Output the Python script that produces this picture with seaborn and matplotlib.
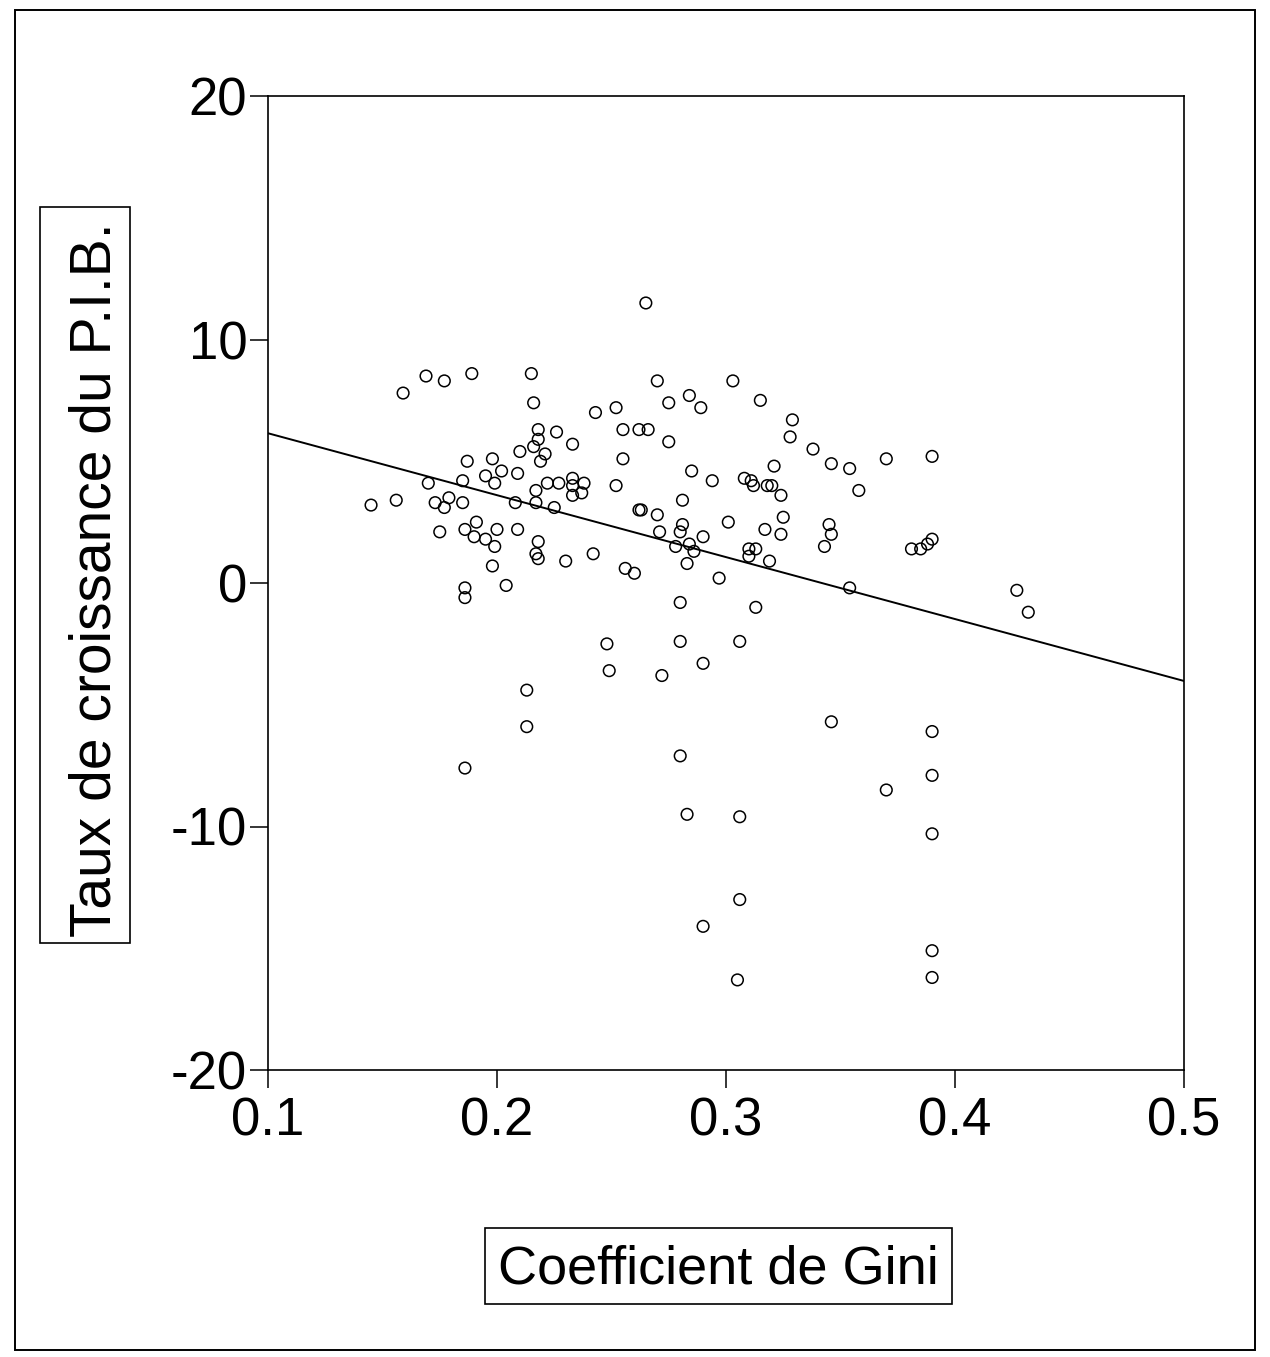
import numpy as np
import pandas as pd
import matplotlib
matplotlib.use("Agg")
import matplotlib.pyplot as plt
from matplotlib.patches import Rectangle
import seaborn as sns

# Gini coefficient vs GDP growth
gini = [
    0.159, 0.169, 0.177, 0.189, 0.215, 0.216, 0.243, 0.218, 0.218, 0.216,
    0.221, 0.219, 0.226, 0.233, 0.210, 0.187, 0.198, 0.202, 0.195, 0.199,
    0.209, 0.185, 0.170, 0.145, 0.156, 0.173, 0.179, 0.177, 0.185, 0.208,
    0.217, 0.217, 0.222, 0.227, 0.233, 0.233, 0.238, 0.237, 0.233, 0.225,
    0.175, 0.186, 0.191, 0.190, 0.195, 0.199, 0.200, 0.209, 0.218, 0.217,
    0.218, 0.230, 0.242, 0.198, 0.204, 0.186, 0.186,
    0.265, 0.270, 0.303, 0.284, 0.275, 0.289, 0.315, 0.252, 0.329, 0.328,
    0.255, 0.262, 0.266, 0.275, 0.255, 0.285, 0.294, 0.252, 0.308, 0.311,
    0.312, 0.318, 0.320, 0.324, 0.321, 0.281, 0.262, 0.263, 0.270, 0.281,
    0.280, 0.271, 0.301, 0.325, 0.317, 0.324, 0.278, 0.284, 0.286, 0.290,
    0.310, 0.313, 0.310, 0.319, 0.283, 0.256, 0.260, 0.297, 0.280, 0.313,
    0.338, 0.346, 0.354, 0.370, 0.390, 0.358, 0.345, 0.346, 0.343, 0.354,
    0.381, 0.385, 0.388, 0.390,
    0.248, 0.280, 0.290, 0.249, 0.272, 0.213, 0.213, 0.280, 0.186, 0.283,
    0.290, 0.306, 0.427, 0.432, 0.346, 0.390, 0.390, 0.370, 0.306, 0.390,
    0.306, 0.390, 0.390, 0.305,
]
croissance = [
    7.8, 8.5, 8.3, 8.6, 8.6, 7.4, 7.0, 6.3, 5.9, 5.6,
    5.3, 5.0, 6.2, 5.7, 5.4, 5.0, 5.1, 4.6, 4.4, 4.1,
    4.5, 4.2, 4.1, 3.2, 3.4, 3.3, 3.5, 3.1, 3.3, 3.3,
    3.8, 3.3, 4.1, 4.1, 4.3, 4.0, 4.1, 3.7, 3.6, 3.1,
    2.1, 2.2, 2.5, 1.9, 1.8, 1.5, 2.2, 2.2, 1.7, 1.2,
    1.0, 0.9, 1.2, 0.7, -0.1, -0.2, -0.6,
    11.5, 8.3, 8.3, 7.7, 7.4, 7.2, 7.5, 7.2, 6.7, 6.0,
    6.3, 6.3, 6.3, 5.8, 5.1, 4.6, 4.2, 4.0, 4.3, 4.2,
    4.0, 4.0, 4.0, 3.6, 4.8, 3.4, 3.0, 3.0, 2.8, 2.4,
    2.1, 2.1, 2.5, 2.7, 2.2, 2.0, 1.5, 1.6, 1.3, 1.9,
    1.4, 1.4, 1.1, 0.9, 0.8, 0.6, 0.4, 0.2, -0.8, -1.0,
    5.5, 4.9, 4.7, 5.1, 5.2, 3.8, 2.4, 2.0, 1.5, -0.2,
    1.4, 1.4, 1.6, 1.8,
    -2.5, -2.4, -3.3, -3.6, -3.8, -4.4, -5.9, -7.1, -7.6, -9.5,
    -14.1, -2.4, -0.3, -1.2, -5.7, -6.1, -7.9, -8.5, -9.6, -10.3,
    -13.0, -15.1, -16.2, -16.3,
]
x_ticks = [0.1, 0.2, 0.3, 0.4, 0.5]
y_ticks = [-20, -10, 0, 10, 20]

df = pd.DataFrame({"gini": gini, "croissance": croissance})

sns.set_style("white")
plt.rcParams["font.family"] = ["Liberation Sans", "DejaVu Sans"]
plt.rcParams["text.color"] = "black"

W, H = 1270, 1357
fig = plt.figure(figsize=(W / 100, H / 100), dpi=100)
ax = fig.add_axes([268 / W, 1 - 1070 / H, 916 / W, 974 / H])

ax.set_xlim(0.1, 0.5)
ax.set_ylim(-20, 20)

sns.scatterplot(data=df, x="gini", y="croissance", ax=ax, marker="o",
                s=70, facecolors="none", edgecolor="black", linewidth=1.1)
sns.regplot(data=df, x="gini", y="croissance", ax=ax, scatter=False,
            ci=None, truncate=False, color="black", line_kws={"lw": 1.4})

ax.set_xlim(0.1, 0.5)
ax.set_ylim(-20, 20)
ax.set_xticks(x_ticks)
ax.set_xticklabels([f"{t:.1f}" for t in x_ticks])
ax.set_yticks(y_ticks)
ax.set_yticklabels([str(t) for t in y_ticks])
ax.tick_params(axis="both", direction="out", length=13, width=1.1,
               color="black", labelsize=38, labelcolor="black", pad=2,
               bottom=True, left=True, top=False, right=False)
ax.tick_params(axis="x", pad=6)
ax.set_xlabel("")
ax.set_ylabel("")
for sp in ax.spines.values():
    sp.set_visible(True)
    sp.set_color("black")
    sp.set_linewidth(1.2)

# axis titles in boxes
fig.text(96 / W, 1 - 580 / H, "Taux de croissance du P.I.B.", rotation=90,
         ha="center", va="center", fontsize=41, color="black")
fig.patches.append(Rectangle((40 / W, 1 - 943 / H), 90 / W, 736 / H,
                             transform=fig.transFigure, fill=False,
                             edgecolor="black", lw=1.2))
fig.text(718 / W, 1 - 1270 / H, "Coefficient de Gini",
         ha="center", va="center", fontsize=39, color="black")
fig.patches.append(Rectangle((485 / W, 1 - 1304 / H), 467 / W, 76 / H,
                             transform=fig.transFigure, fill=False,
                             edgecolor="black", lw=1.2))

# outer frame
fig.patches.append(Rectangle((15 / W, 1 - 1350 / H), 1240 / W, 1340 / H,
                             transform=fig.transFigure, fill=False,
                             edgecolor="black", lw=1.4))

fig.savefig("out.png", dpi=100)
